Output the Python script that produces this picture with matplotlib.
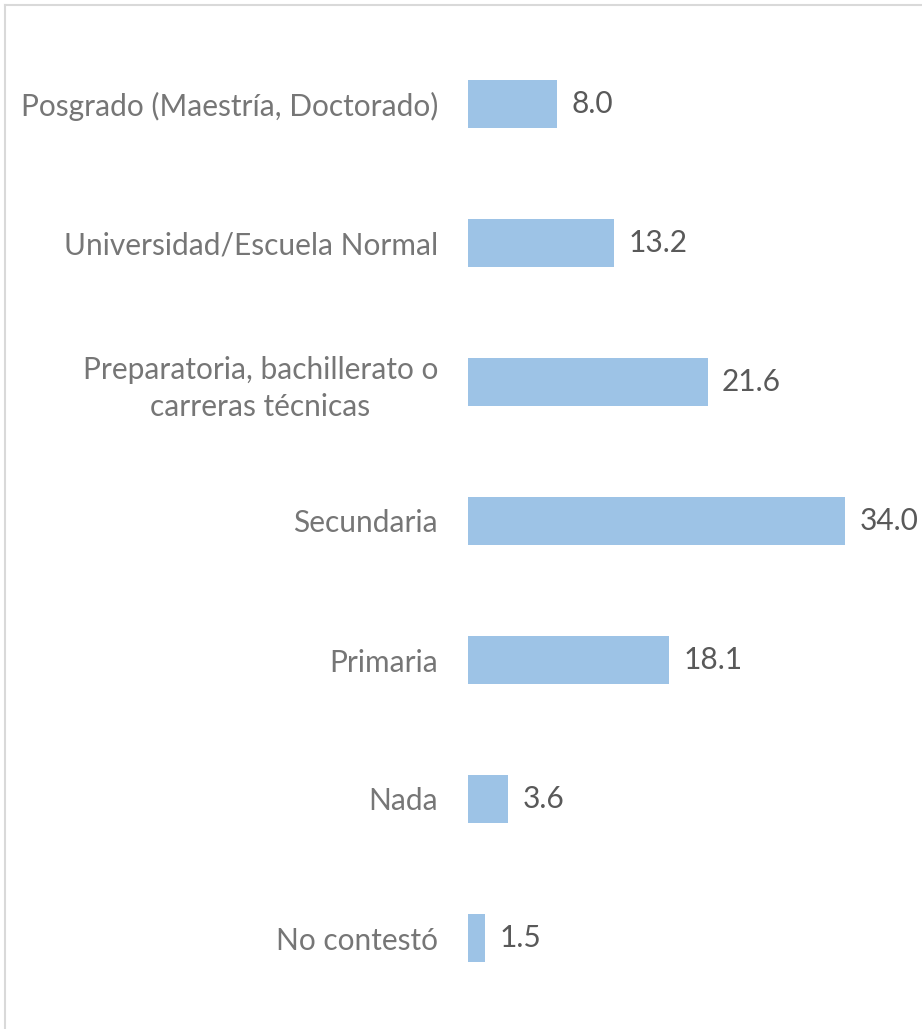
import matplotlib
matplotlib.use("Agg")
import matplotlib.pyplot as plt
from matplotlib.lines import Line2D

categories = [
    "Posgrado (Maestría, Doctorado)",
    "Universidad/Escuela Normal",
    "Preparatoria, bachillerato o\ncarreras técnicas",
    "Secundaria",
    "Primaria",
    "Nada",
    "No contestó",
]
values = [8.0, 13.2, 21.6, 34.0, 18.1, 3.6, 1.5]

plt.rcParams['font.family'] = ['Lato', 'DejaVu Sans']

W, H = 922, 1029
fig = plt.figure(figsize=(W / 100, H / 100), dpi=100)
fig.patch.set_facecolor("white")

ax = fig.add_axes([468 / W, 21.5 / H, 377 / W, 973 / H])
ypos = list(range(len(categories)))
ax.barh(ypos, values, height=0.345, color="#9DC3E6", edgecolor="none")
ax.set_xlim(0, 34.0)
ax.set_ylim(len(categories) - 0.5, -0.5)
ax.set_yticks(ypos)
ax.set_yticklabels(categories, fontsize=21.5, color="#767676", multialignment="center",
                   linespacing=1.35)
ax.tick_params(axis="y", length=0, pad=21.5)
ax.set_xticks([])
for s in ax.spines.values():
    s.set_visible(False)
ax.patch.set_alpha(0)

for y, v in zip(ypos, values):
    ax.annotate(f"{v:.1f}", xy=(v, y), xytext=(10.5, 0), textcoords="offset points",
                ha="left", va="center", fontsize=21.5, color="#595959",
                annotation_clip=False)

# chart border (only top and left visible, the rest cropped)
fig.add_artist(Line2D([5 / W, 1.0], [1 - 5 / H, 1 - 5 / H], transform=fig.transFigure,
                      color="#D9D9D9", lw=1.5))
fig.add_artist(Line2D([5 / W, 5 / W], [0, 1 - 5 / H], transform=fig.transFigure,
                      color="#D9D9D9", lw=1.5))

fig.savefig("out.png", dpi=100, facecolor="white")
